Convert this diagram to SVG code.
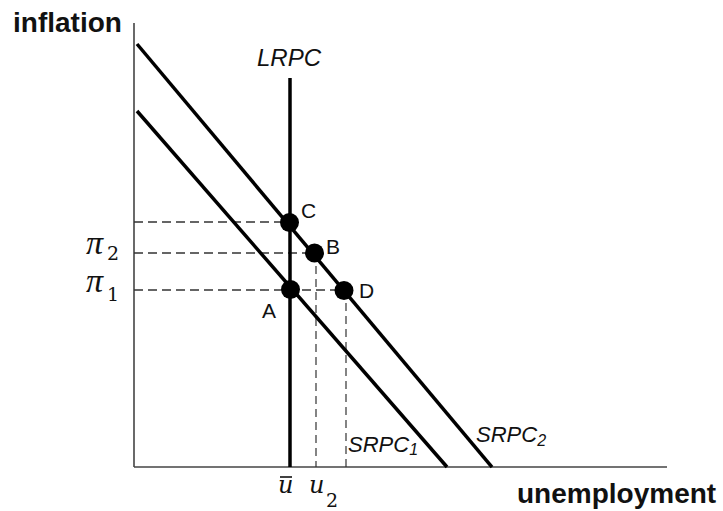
<svg xmlns="http://www.w3.org/2000/svg" width="723" height="511" viewBox="0 0 723 511">
<style>
.axis{stroke:#444;stroke-width:1.6;fill:none}
.curve{stroke:#000;stroke-width:3.5;fill:none}
.dash{stroke:#333;stroke-width:1.3;stroke-dasharray:9 5;fill:none}
.vdash{stroke:#333;stroke-width:1.2;stroke-dasharray:8 5;fill:none}
.dot{fill:#000}
.ttl{font-family:"Liberation Sans",Arial,sans-serif;font-weight:bold;font-size:28px;fill:#111}
.lbl{font-family:"Liberation Sans",Arial,sans-serif;font-size:21px;fill:#111}
.ital{font-family:"Liberation Sans",Arial,sans-serif;font-style:italic;fill:#111}
.pi{font-family:"Liberation Serif","DejaVu Serif",serif;font-style:italic;fill:#111}
.math{font-family:"DejaVu Serif",serif;font-style:italic;fill:#111}
.mathn{font-family:"DejaVu Serif",serif;fill:#111}
</style>
<rect width="723" height="511" fill="#fff"/>
<g id="axes">
<line class="axis" x1="134" y1="23" x2="134" y2="467"/>
<line class="axis" x1="134" y1="467" x2="667" y2="467"/>
<text class="ttl" x="13" y="32">inflation</text>
<text class="ttl" x="517" y="503">unemployment</text>
</g>
<g id="connectors">
<line class="dash" x1="134" y1="222" x2="289" y2="222"/>
<line class="dash" x1="134" y1="253" x2="314" y2="253"/>
<line class="dash" x1="134" y1="290" x2="344" y2="290"/>
<line class="vdash" x1="316" y1="253" x2="316" y2="467"/>
<line class="vdash" x1="346" y1="290" x2="346" y2="467"/>
</g>
<g id="LRPC">
<line class="curve" x1="290" y1="78" x2="290" y2="467"/>
<text class="ital" x="257" y="66" font-size="24">LRPC</text>
</g>
<g id="SRPC1">
<line class="curve" x1="137" y1="111" x2="447" y2="467"/>
<text class="ital" x="348" y="452" font-size="22">SRPC<tspan font-size="16" dy="3">1</tspan></text>
</g>
<g id="SRPC2">
<line class="curve" x1="137" y1="44" x2="492" y2="467"/>
<text class="ital" x="476" y="442" font-size="22">SRPC<tspan font-size="16" dy="4">2</tspan></text>
</g>
<g id="pointA">
<circle class="dot" cx="290.5" cy="289.5" r="9.5"/>
<text class="lbl" x="262" y="318">A</text>
</g>
<g id="pointB">
<circle class="dot" cx="314.5" cy="253" r="9.5"/>
<text class="lbl" x="326" y="254">B</text>
</g>
<g id="pointC">
<circle class="dot" cx="289.5" cy="222.5" r="9.5"/>
<text class="lbl" x="301" y="218">C</text>
</g>
<g id="pointD">
<circle class="dot" cx="344" cy="290.5" r="9.5"/>
<text class="lbl" x="359" y="298">D</text>
</g>
<g id="axislabels">
<text class="pi" x="86" y="254" font-size="34">π</text>
<text class="mathn" x="107" y="260" font-size="19">2</text>
<text class="pi" x="86" y="292" font-size="34">π</text>
<text class="mathn" x="107" y="301" font-size="19">1</text>
<text class="math" x="278" y="493" font-size="24">u</text>
<line x1="280" y1="477" x2="292" y2="477" stroke="#111" stroke-width="1.6"/>
<text class="math" x="309" y="493" font-size="24">u</text>
<text class="mathn" x="326" y="507" font-size="19">2</text>
</g>
</svg>
